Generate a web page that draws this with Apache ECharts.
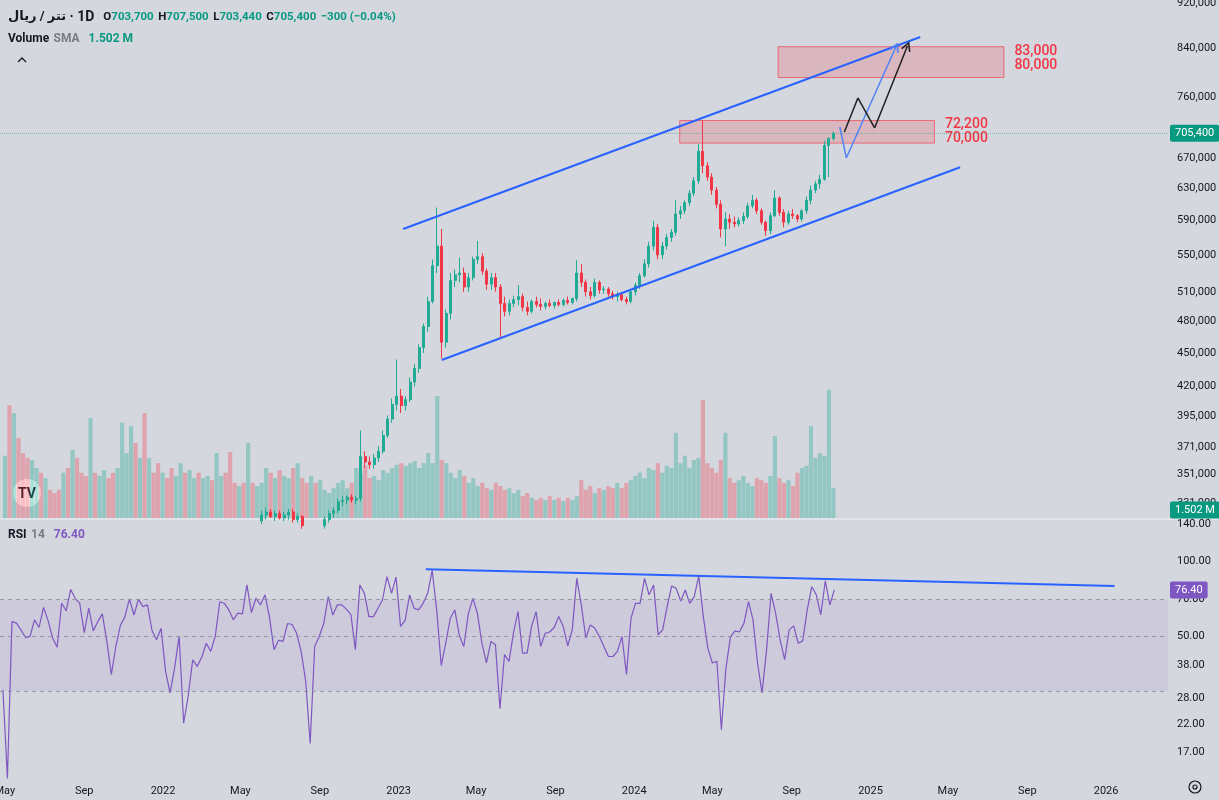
<!DOCTYPE html>
<html>
<head>
<meta charset="utf-8">
<title>USDT / IRR 1D</title>
<script src="https://cdn.jsdelivr.net/npm/echarts@6/dist/echarts.min.js"></script>
<style>
  html, body { margin: 0; padding: 0; background: #d5d7de; }
  #chart { width: 1219px; height: 800px; }
</style>
</head>
<body>
<div id="chart"></div>
<script>
const FONT = 'Roboto, "DejaVu Sans", sans-serif';
const GREEN = '#22ab94';
const RED = '#f23645';
const PURPLE = '#7e57c2';
const BLUE = '#2962ff';
const CLEAR = 'rgba(0,0,0,0)';

// one sample per week, first one on 2021-04-28
const DAY = 864e5;
const WEEK_START = new Date(2021, 3, 28).getTime();
const CANDLE_FROM = 57; // weeks before this sit below the visible price range

// RSI 14, weekly readings off the lower pane
const rsiValues = [
  30.4, 13.4, 57, 56.2, 52.8, 49.2, 49.7, 57.9, 54, 65,
  57.5, 49, 45, 67.5, 63, 76.7, 70.5, 67.5, 51.5, 64.5,
  52.3, 57, 61.2, 47.5, 35, 45.3, 55, 59.7, 70.3, 60.6,
  70, 65.5, 66.5, 52.5, 48.2, 53.6, 36, 29.5, 37.2, 49.7,
  22.3, 28.6, 40, 37.7, 41, 46.7, 43.3, 50, 68.5, 67.5,
  63.5, 58, 61.6, 61.2, 80, 62, 70.7, 66.5, 73, 59.3,
  44, 48, 47.5, 56, 55.5, 51.2, 43.3, 33, 18.5, 45.3,
  49.7, 56, 71.8, 60.6, 66.5, 66.5, 64, 61, 44, 80,
  74, 59.7, 59.7, 64.5, 69.6, 86.3, 74, 86, 54.5, 57.5,
  73, 64.5, 63.5, 67.5, 74, 91.5, 63.5, 38, 46.7, 58.8,
  63.5, 50.3, 45.3, 61.2, 70.7, 61.6, 46.7, 38.9, 47.5, 46,
  25.5, 42, 39.5, 51.5, 62.5, 42.6, 42.6, 54.5, 62.5, 45.3,
  51.2, 51.8, 54, 59.7, 54.5, 45.6, 52.8, 85, 66.5, 49,
  55.3, 53.6, 49.7, 45.3, 41.3, 41.3, 43.3, 49.7, 35, 58.8,
  67.5, 67.5, 85, 73, 80, 50.5, 52.8, 65.5, 79.2, 77.5,
  69, 76.3, 67.5, 71.8, 87, 59.7, 44.6, 38.9, 39.5, 21,
  37, 49.4, 52.3, 51.8, 56.2, 68.5, 57.9, 38.9, 29.5, 43.9,
  74, 61.6, 48.2, 40.1, 52.8, 54.8, 46.7, 47.7, 63.5, 78.7,
  73, 60.6, 83, 66.5, 76.4
];

// volume, millions
const volumeValues = [
  11.7, 21.2, 19.7, 15.0, 12.2, 11.3, 10.9, 9.4, 8.5, 7.5,
  5.3, 4.7, 5.3, 8.5, 9.4, 12.8, 11.3, 8.5, 7.9, 18.8,
  8.5, 7.9, 9.0, 7.5, 8.5, 9.4, 17.9, 12.2, 17.3, 14.1,
  11.3, 19.7, 11.3, 8.5, 10.3, 8.5, 7.5, 9.4, 7.9, 10.3,
  8.5, 9.0, 7.5, 8.5, 7.5, 7.9, 7.1, 12.2, 7.9, 8.5,
  12.4, 6.6, 6.0, 6.6, 14.1, 6.6, 6.0, 6.6, 9.4, 8.5,
  7.5, 9.0, 7.9, 7.5, 9.4, 10.3, 7.5, 6.6, 7.9, 6.6,
  7.1, 5.3, 4.7, 5.6, 6.6, 7.1, 5.6, 6.6, 9.4, 8.5,
  9.8, 7.5, 7.9, 7.1, 9.0, 8.5, 9.4, 10.0, 10.3, 9.8,
  10.3, 10.7, 9.4, 10.3, 12.2, 10.3, 22.9, 10.9, 10.3, 8.5,
  7.5, 9.0, 7.9, 6.6, 7.5, 6.0, 6.6, 5.6, 5.3, 6.6,
  6.0, 5.3, 5.6, 4.7, 5.3, 4.1, 4.7, 3.8, 3.4, 3.8,
  3.4, 4.1, 3.4, 3.8, 3.2, 3.8, 3.4, 4.1, 7.1, 5.3,
  6.0, 4.7, 5.6, 5.3, 6.0, 5.6, 6.6, 5.6, 6.6, 7.1,
  7.9, 8.5, 7.5, 9.4, 9.0, 10.3, 8.5, 9.8, 9.4, 16.0,
  10.3, 11.7, 9.4, 10.9, 11.3, 22.2, 10.3, 9.4, 8.5, 10.9,
  16.0, 7.5, 6.6, 7.1, 7.9, 6.6, 6.0, 7.5, 7.1, 6.6,
  7.9, 15.4, 7.5, 6.6, 7.1, 6.0, 8.5, 9.4, 9.8, 17.3,
  11.3, 12.2, 11.7, 24.1, 5.6
];

// weekly candles from week CANDLE_FROM, [open, high, low, close] in thousand rial
const candles = [
  [319, 326, 317, 323], [323, 328, 320, 325], [325, 327, 321, 322], [322, 326, 319, 324],
  [324, 326, 320, 321], [321, 325, 319, 323], [323, 327, 320, 325], [325, 327, 318, 320],
  [320, 324, 318, 322], [322, 323, 314, 316], [316, 318, 311, 313], [313, 316, 309, 314],
  [314, 317, 310, 312], [312, 318, 310, 316], [316, 322, 314, 320], [320, 326, 318, 324],
  [324, 328, 321, 326], [326, 334, 324, 332], [332, 336, 329, 333], [333, 336, 330, 335],
  [335, 337, 331, 333], [333, 336, 330, 334], [334, 384, 332, 364], [364, 368, 356, 360],
  [360, 364, 355, 358], [358, 366, 355, 363], [363, 372, 360, 368], [368, 384, 366, 380],
  [380, 396, 378, 393], [393, 410, 390, 405], [405, 444, 400, 412], [412, 418, 398, 404],
  [404, 412, 400, 409], [409, 428, 407, 424], [424, 440, 420, 436], [436, 458, 432, 455],
  [455, 478, 450, 475], [475, 505, 470, 500], [500, 545, 498, 538], [538, 606, 530, 560],
  [560, 580, 445, 460], [460, 492, 455, 488], [488, 530, 482, 522], [522, 534, 515, 528],
  [528, 547, 520, 530], [530, 536, 510, 515], [515, 530, 510, 525], [525, 548, 522, 545],
  [545, 566, 540, 548], [548, 552, 528, 532], [532, 535, 512, 518], [518, 530, 512, 525],
  [525, 530, 510, 515], [515, 518, 465, 498], [498, 505, 485, 490], [490, 502, 486, 498],
  [498, 506, 494, 502], [502, 517, 496, 505], [505, 508, 490, 494], [494, 500, 486, 490],
  [490, 502, 488, 500], [500, 505, 494, 497], [497, 503, 491, 495], [495, 500, 492, 498],
  [498, 502, 494, 496], [496, 500, 493, 499], [499, 502, 495, 497], [497, 503, 495, 501],
  [501, 505, 497, 499], [499, 504, 497, 503], [503, 544, 500, 530], [530, 540, 515, 520],
  [520, 523, 505, 510], [510, 515, 502, 506], [506, 524, 504, 520], [520, 522, 508, 512],
  [512, 516, 508, 513], [513, 515, 505, 508], [508, 511, 502, 505], [505, 510, 500, 507],
  [507, 509, 500, 502], [502, 505, 497, 500], [500, 512, 498, 510], [510, 520, 506, 517],
  [517, 530, 513, 527], [527, 545, 525, 540], [540, 565, 536, 560], [560, 590, 555, 582],
  [582, 586, 545, 550], [550, 565, 545, 560], [560, 574, 556, 570], [570, 580, 565, 576],
  [576, 615, 572, 598], [598, 608, 592, 602], [602, 615, 598, 612], [612, 628, 608, 624],
  [624, 645, 620, 640], [640, 690, 636, 680], [680, 724, 650, 660], [660, 665, 640, 645],
  [645, 650, 622, 628], [628, 632, 605, 610], [610, 615, 570, 580], [580, 600, 560, 592],
  [592, 598, 580, 588], [588, 595, 582, 586], [586, 594, 583, 590], [590, 600, 586, 595],
  [595, 612, 592, 608], [608, 622, 605, 615], [615, 618, 598, 602], [602, 605, 585, 588],
  [588, 590, 572, 578], [578, 600, 574, 596], [596, 628, 594, 618], [618, 620, 596, 600],
  [600, 604, 582, 588], [588, 602, 585, 598], [598, 604, 592, 596], [596, 598, 588, 592],
  [592, 604, 589, 602], [602, 620, 598, 615], [615, 634, 610, 628], [628, 640, 624, 636],
  [636, 648, 630, 642], [642, 695, 640, 688], [688, 700, 645, 698], [698, 708, 695, 705.4]
];

const priceTicks = [331000, 351000, 371000, 395000, 420000, 450000, 480000, 510000,
  550000, 590000, 630000, 670000, 760000, 840000, 920000];
const rsiTicks = [140, 100, 70, 50, 38, 28, 22, 17];
const rsiLevels = [70, 50, 30];
const timeTicks = ['2021-05-01', '2021-09-01', '2022-01-01', '2022-05-01', '2022-09-01',
  '2023-01-01', '2023-05-01', '2023-09-01', '2024-01-01', '2024-05-01', '2024-09-01',
  '2025-01-01', '2025-05-01', '2025-09-01', '2026-01-01'];
const MONTHS = ['Jan', 'Feb', 'Mar', 'Apr', 'May', 'Jun', 'Jul', 'Aug', 'Sep', 'Oct', 'Nov', 'Dec'];

const lastPrice = 705400;
const lastVolume = 1.502;
const lastRsi = 76.40;

// drawings, [date, value]
const upperChannel = [['2023-01-07', 580000], ['2025-03-21', 859100]];
const lowerChannel = [['2023-03-08', 443600], ['2025-05-22', 658000]];
const rsiTrend = [['2023-02-12', 92.4], ['2026-01-14', 79.2]];
const zoneNear = [['2024-03-12', 724100], ['2025-04-12', 691400]];
const zoneFar = [['2024-08-12', 842200], ['2025-07-29', 790700]];
const pathBlue = [['2024-11-16', 714600], ['2024-11-26', 670700], ['2025-02-11', 841700]];
const pathBlack = [['2024-11-23', 707400], ['2024-12-14', 758300], ['2025-01-09', 713200], ['2025-03-01', 843400]];

const weekTime = i => WEEK_START + i * 7 * DAY;

const candleData = candles.map((c, k) => [weekTime(CANDLE_FROM + k), c[0] * 1000, c[3] * 1000, c[2] * 1000, c[1] * 1000]);

const volumeData = volumeValues.map((v, i) => {
  let up;
  if (i >= CANDLE_FROM && candles[i - CANDLE_FROM]) {
    const c = candles[i - CANDLE_FROM];
    up = c[3] >= c[0];
  } else {
    up = i === 0 || rsiValues[i] >= rsiValues[i - 1];
  }
  return { value: [weekTime(i), v], itemStyle: { color: up ? 'rgba(34,171,148,0.36)' : 'rgba(242,54,69,0.32)' } };
});

const rsiData = rsiValues.map((v, i) => [weekTime(i), v]);

const ARROW = 'path://M5,0 L10,9 L8.6,9.8 L5,3.2 L1.4,9.8 L0,9 Z';

function tickLabel(v, text) {
  return {
    yAxis: v,
    lineStyle: { color: CLEAR, width: 0 },
    label: { show: true, position: 'end', distance: 9, formatter: text, color: '#131722', fontSize: 11, fontFamily: FONT }
  };
}

function timeLabel(d) {
  const t = new Date(d + 'T00:00:00');
  const text = t.getMonth() === 0 ? String(t.getFullYear()) : MONTHS[t.getMonth()];
  return {
    xAxis: t.getTime(),
    lineStyle: { color: CLEAR, width: 0 },
    label: { show: true, position: 'start', distance: 6, formatter: text, color: '#131722', fontSize: 11, fontFamily: FONT }
  };
}

function badge(text, bg) {
  return {
    show: true, position: 'end', distance: 2, formatter: text, color: '#fff',
    backgroundColor: bg, padding: [3, 5, 3, 5], borderRadius: 2, fontSize: 11, fontFamily: FONT
  };
}

function trend(points, color, width) {
  return [
    { coord: points[0], symbol: 'none', lineStyle: { color: color, width: width, type: 'solid', opacity: 1 } },
    { coord: points[1], symbol: 'none' }
  ];
}

function pathSegments(points, color) {
  const out = [];
  for (let i = 1; i < points.length; i++) {
    const last = i === points.length - 1;
    out.push([
      { coord: points[i - 1], symbol: 'none', lineStyle: { color: color, width: 1.5, type: 'solid', opacity: 1 } },
      { coord: points[i], symbol: last ? ARROW : 'none', symbolSize: last ? [10, 10] : 1 }
    ]);
  }
  return out;
}

function zone(points, text, shift) {
  return [
    {
      coord: points[0],
      itemStyle: { color: 'rgba(242,54,69,0.2)', borderColor: 'rgba(242,54,69,0.65)', borderWidth: 1 },
      label: {
        show: true, position: 'right', distance: 10, offset: [0, shift], formatter: text,
        color: RED, fontSize: 14, lineHeight: 14, fontFamily: FONT, fontWeight: 500
      }
    },
    { coord: points[1] }
  ];
}

function legend(left, top, text, rich) {
  return { left: left, top: top, padding: 0, text: text, textStyle: { rich: rich } };
}

const chart = echarts.init(document.getElementById('chart'), null, { renderer: 'canvas' });

const option = {
  animation: false,
  backgroundColor: '#d5d7de',
  textStyle: { fontFamily: FONT },
  title: [
    legend(8, 8,
      '{sym|تتر / ریال}{tf| · 1D}  {k|O}{v|703,700} {k|H}{v|707,500} {k|L}{v|703,440} {k|C}{v|705,400} {v|−300 (−0.04%)}',
      {
        sym: { fontSize: 13, color: '#131722', fontFamily: FONT },
        tf: { fontSize: 14, color: '#131722', fontFamily: FONT },
        k: { fontSize: 11.5, color: '#131722', fontFamily: FONT },
        v: { fontSize: 11.5, color: '#089981', fontFamily: FONT }
      }),
    legend(8, 30, '{k|Volume} {g|SMA}  {v|1.502 M}', {
      k: { fontSize: 12, color: '#131722', fontFamily: FONT },
      g: { fontSize: 12, color: '#787b86', fontFamily: FONT },
      v: { fontSize: 12, color: '#089981', fontFamily: FONT }
    }),
    legend(8, 526, '{k|RSI} {g|14}  {p|76.40}', {
      k: { fontSize: 12, color: '#131722', fontFamily: FONT },
      g: { fontSize: 12, color: '#787b86', fontFamily: FONT },
      p: { fontSize: 12, color: PURPLE, fontFamily: FONT }
    })
  ],
  grid: [
    { left: 0, right: 51, top: 0, height: 518 },
    { left: 0, right: 51, top: 520, height: 260 }
  ],
  xAxis: [
    { type: 'time', gridIndex: 0, min: '2021-04-23 12:00:00', max: '2026-04-06 21:00:00', show: false },
    { type: 'time', gridIndex: 1, min: '2021-04-23 12:00:00', max: '2026-04-06 21:00:00', show: false }
  ],
  yAxis: [
    { type: 'log', gridIndex: 0, min: 321000, max: 926700, show: false, splitLine: { show: false } },
    { type: 'value', gridIndex: 0, min: 0, max: 97.3, show: false, splitLine: { show: false } },
    { type: 'log', gridIndex: 1, min: 13.2, max: 145.7, show: false, splitLine: { show: false } }
  ],
  graphic: [
    { type: 'rect', shape: { x: 0, y: 518, width: 1219, height: 2 }, style: { fill: '#e2e4eb' }, silent: true },
    { type: 'circle', shape: { cx: 27, cy: 493, r: 14 }, style: { fill: '#ffffff' }, silent: true },
    { type: 'text', x: 27, y: 494, style: { text: 'TV', fill: '#131722', font: 'bold 14px Roboto', align: 'center', verticalAlign: 'middle' }, silent: true },
    { type: 'polyline', shape: { points: [[18, 62], [22, 58], [26, 62]] }, style: { stroke: '#131722', lineWidth: 1.3, fill: 'transparent' }, silent: true },
    { type: 'circle', shape: { cx: 1195, cy: 787, r: 6 }, style: { fill: 'transparent', stroke: '#131722', lineWidth: 1.2 }, silent: true },
    { type: 'circle', shape: { cx: 1195, cy: 787, r: 2 }, style: { fill: 'transparent', stroke: '#131722', lineWidth: 1.2 }, silent: true }
  ],
  series: [
    {
      name: 'Volume',
      type: 'bar',
      xAxisIndex: 0,
      yAxisIndex: 1,
      barWidth: 4.2,
      z: 1,
      data: volumeData,
      markLine: {
        silent: true, symbol: ['none', 'none'], z: 10,
        data: [{ yAxis: lastVolume, lineStyle: { color: CLEAR, width: 0 }, label: badge('1.502 M', '#089981') }]
      }
    },
    {
      name: 'USDT/IRR',
      type: 'candlestick',
      xAxisIndex: 0,
      yAxisIndex: 0,
      barWidth: 2.6,
      z: 3,
      encode: { x: 0, y: [1, 2, 3, 4] },
      data: candleData,
      itemStyle: { color: GREEN, color0: RED, borderColor: GREEN, borderColor0: RED, borderWidth: 1 },
      markArea: {
        silent: true,
        data: [zone(zoneNear, '72,200\n70,000', 0), zone(zoneFar, '83,000\n80,000', -4)]
      },
      markLine: {
        silent: true, symbol: ['none', 'none'],
        label: { show: false },
        data: [
          ...priceTicks.map(v => tickLabel(v, v.toLocaleString('en-US'))),
          {
            yAxis: lastPrice,
            lineStyle: { color: 'rgba(8,153,129,0.45)', type: 'dotted', width: 1 },
            label: badge('705,400', '#089981')
          },
          trend(upperChannel, BLUE, 2),
          trend(lowerChannel, BLUE, 2),
          ...pathSegments(pathBlue, '#4f83f5'),
          ...pathSegments(pathBlack, '#1f1f24')
        ]
      }
    },
    {
      name: 'RSI 14',
      type: 'line',
      xAxisIndex: 1,
      yAxisIndex: 2,
      showSymbol: false,
      symbol: 'none',
      data: rsiData,
      lineStyle: { color: PURPLE, width: 1.2 },
      markArea: {
        silent: true,
        itemStyle: { color: 'rgba(126,87,194,0.1)' },
        data: [[{ yAxis: 30 }, { yAxis: 70 }]]
      },
      markLine: {
        silent: true, symbol: ['none', 'none'],
        label: { show: false },
        data: [
          ...rsiLevels.map(v => ({ yAxis: v, lineStyle: { color: '#8a8d96', type: [4, 4], width: 1, opacity: 0.8 } })),
          ...rsiTicks.map(v => tickLabel(v, v.toFixed(2))),
          ...timeTicks.map(timeLabel),
          { yAxis: lastRsi, lineStyle: { color: CLEAR, width: 0 }, label: badge('76.40', PURPLE) },
          trend(rsiTrend, BLUE, 2)
        ]
      }
    }
  ]
};

chart.setOption(option);
</script>
</body>
</html>
